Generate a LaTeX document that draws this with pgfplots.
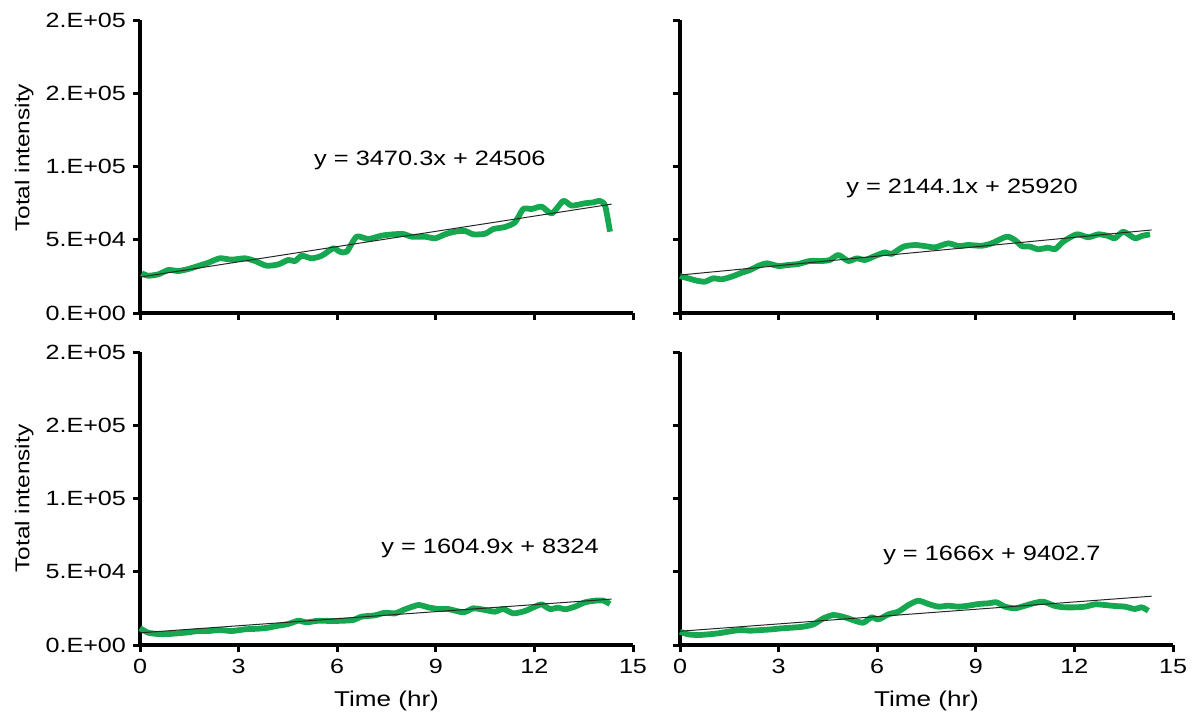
\documentclass[border=0pt]{standalone}
\usepackage{fontspec}
\setmainfont{Liberation Sans}[FakeStretch=1.22]
\usepackage{pgfplots}
\usepackage{pgfplotstable}
\pgfplotsset{compat=1.18}
\definecolor{grn}{RGB}{22,168,80}

% green curves (time in hr, total intensity)
\pgfplotstableread{
x y
0.05 27100
0.25 25460
0.56 26400
0.86 29350
1.17 28670
1.47 30030
1.77 32080
2.08 34340
2.43 37340
2.79 36400
3.19 37340
3.50 35500
3.85 32300
4.21 33200
4.51 36200
4.72 35500
4.92 39100
5.22 37340
5.53 39100
5.88 44150
6.08 41850
6.29 41850
6.59 52100
6.95 50500
7.35 52800
7.71 53700
8.01 53900
8.27 52100
8.67 52100
8.98 51000
9.28 53700
9.58 55500
9.89 56000
10.14 53700
10.50 54100
10.75 57300
11.10 58700
11.41 61900
11.66 71000
11.92 71000
12.22 72600
12.53 68000
12.88 76500
13.13 73300
13.54 74900
13.79 75500
13.99 76500
14.15 73300
14.30 55500
}\tA
\pgfplotstableread{
x y
0.00 25260
0.25 23670
0.51 22070
0.76 21400
1.01 23670
1.27 23000
1.57 24800
1.88 27500
2.13 29350
2.38 32100
2.64 33900
2.99 32100
3.30 32800
3.60 33450
3.95 35500
4.31 35500
4.56 36200
4.82 39600
5.12 35500
5.38 37300
5.63 36200
5.93 38900
6.24 41400
6.44 40300
6.80 45300
7.15 46400
7.45 45700
7.76 44800
8.16 47550
8.47 45700
8.77 46400
9.18 45900
9.48 47550
9.94 52100
10.19 49800
10.40 45700
10.65 45300
10.90 43500
11.21 44600
11.41 43500
11.66 48700
12.07 53700
12.42 51700
12.73 53700
13.03 52600
13.23 51000
13.49 55500
13.84 51000
14.05 52600
14.30 53700
}\tB
\pgfplotstableread{
x y
0.00 11500
0.25 8400
0.56 7500
0.86 7500
1.17 8000
1.47 8650
1.77 9560
2.08 9560
2.43 10240
2.79 9560
3.19 10700
3.60 11150
3.90 11830
4.21 13200
4.51 14330
4.82 16600
5.07 15480
5.43 16600
5.83 16380
6.19 16600
6.49 17070
6.74 19340
7.15 20250
7.45 22070
7.76 21600
8.06 24350
8.47 27300
8.77 25700
9.08 24570
9.38 24570
9.84 22300
10.14 25030
10.50 23900
10.80 22750
11.05 24570
11.36 21600
11.71 23200
12.02 26170
12.22 27760
12.47 24570
12.73 25500
12.93 24350
13.23 26170
13.54 29130
13.84 30260
14.10 30260
14.30 27990
}\tC
\pgfplotstableread{
x y
0.00 9100
0.25 7280
0.56 6830
0.86 7280
1.17 8000
1.47 9100
1.83 10240
2.13 9780
2.48 10240
2.79 10700
3.09 11380
3.40 11830
3.75 12510
4.06 14100
4.36 18200
4.67 20480
5.02 18900
5.32 16600
5.58 15250
5.83 18900
6.04 17520
6.34 20930
6.64 22750
6.95 27300
7.25 30260
7.56 27990
7.86 26170
8.16 26830
8.47 26170
8.77 26830
9.08 27990
9.38 28450
9.63 29130
9.89 26170
10.19 25030
10.40 26170
10.75 28450
11.05 29580
11.41 26620
11.71 25730
12.02 25730
12.32 26170
12.63 27760
12.93 27300
13.23 26620
13.54 26170
13.84 24570
14.05 25730
14.25 23400
}\tD

\tikzset{eq/.style={font=\fontsize{10.4}{12}\selectfont}}
\pgfplotsset{
  panel/.style={
    scale only axis, width=246.5pt, height=146.5pt,
    xmin=0, xmax=15, ymin=0, ymax=200000,
    axis x line=bottom, axis y line=left,
    axis line style={-, line width=1.7pt, black},
    xtick={0,3,6,9,12,15},
    ytick={0,50000,100000,150000,200000},
    scaled y ticks=false, scaled x ticks=false,
    tick align=outside, major tick length=3.5pt,
    tick style={line width=1.5pt, black},
    ticklabel style={font=\fontsize{10.3}{12}\selectfont, black},
    xlabel style={font=\fontsize{10.7}{12}\selectfont, black},
    ylabel style={font=\fontsize{10}{12}\selectfont, black},
    clip=false,
  },
  yleft/.style={
    yticklabels={0.E+00,5.E+04,1.E+05,2.E+05,2.E+05},
    ylabel={Total intensity},
  },
  curve/.style={color=grn, line width=2.9pt, line join=round, smooth, tension=0.4},
  trend/.style={color=black!85, line width=0.5pt},
}

\begin{document}
\begin{tikzpicture}
\path[use as bounding box] (0,0) rectangle (597.5pt,360pt);

% top left
\begin{axis}[panel, yleft, at={(70pt,203.5pt)}, anchor=south west,
  xticklabels={},
  ylabel style={at={(axis description cs:-0.235,0.53)}, anchor=center}]
\addplot[curve] table {\tA};
\addplot[trend] coordinates {(0,24506) (14.35,74306)};
\node[eq] at (axis cs:8.82,104400) {y = 3470.3x + 24506};
\end{axis}

% top right
\begin{axis}[panel, at={(340pt,203.5pt)}, anchor=south west,
  xticklabels={}, yticklabels={}]
\addplot[curve] table {\tB};
\addplot[trend] coordinates {(0,25920) (14.35,56688)};
\node[eq] at (axis cs:8.58,85300) {y = 2144.1x + 25920};
\end{axis}

% bottom left
\begin{axis}[panel, yleft, at={(70pt,37.5pt)}, anchor=south west,
  xticklabels={0,3,6,9,12,15},
  xlabel={Time (hr)},
  xlabel style={at={(axis description cs:0.5,-0.19)}, anchor=center},
  ylabel style={at={(axis description cs:-0.235,0.5)}, anchor=center}]
\addplot[curve] table {\tC};
\addplot[trend] coordinates {(0,8324) (14.35,31354)};
\node[eq] at (axis cs:10.65,66200) {y = 1604.9x + 8324};
\end{axis}

% bottom right
\begin{axis}[panel, at={(340pt,37.5pt)}, anchor=south west,
  xticklabels={0,3,6,9,12,15}, yticklabels={},
  xlabel={Time (hr)},
  xlabel style={at={(axis description cs:0.5,-0.19)}, anchor=center}]
\addplot[curve] table {\tD};
\addplot[trend] coordinates {(0,9402.7) (14.35,33309)};
\node[eq] at (axis cs:9.49,61400) {y = 1666x + 9402.7};
\end{axis}
\end{tikzpicture}
\end{document}
